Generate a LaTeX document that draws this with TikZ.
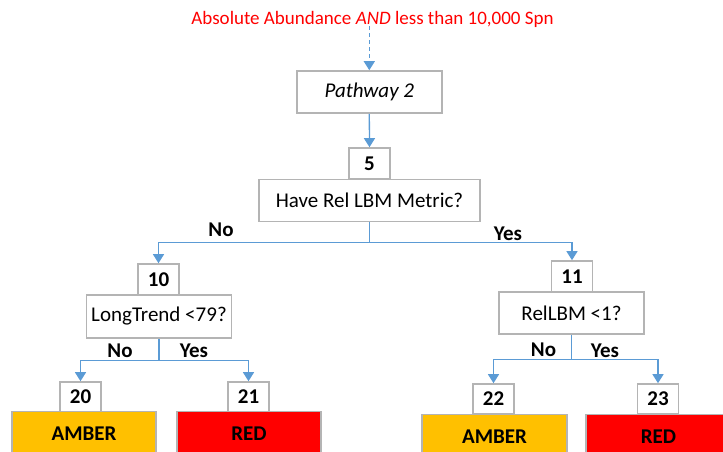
\documentclass[tikz,border=0pt]{standalone}
\usepackage{fontspec}
\setmainfont{Carlito}
\usetikzlibrary{arrows.meta}
\definecolor{linkblue}{HTML}{5B9BD5}
\definecolor{framegray}{HTML}{B4B4B4}
\definecolor{amberfill}{HTML}{FFC000}
\definecolor{redfill}{HTML}{FF0000}
\definecolor{titlered}{HTML}{FF0000}

\begin{document}
\begin{tikzpicture}[x=1pt,y=-1pt,
  txt/.style={font=\fontsize{21}{25}\selectfont},
  box/.style={txt, draw=framegray, line width=1.6pt, fill=white, inner sep=0pt,
    minimum height=42pt},
  wide/.style={box, minimum width=145pt},
  numbox/.style={box, font=\fontsize{21}{25}\selectfont\bfseries,
    minimum width=41pt, minimum height=31pt},
  verdict/.style={wide, font=\fontsize{21}{25}\selectfont\bfseries, minimum height=45pt},
  link/.style={draw=linkblue, line width=1.3pt},
  arr/.style={link, -{Triangle[width=11pt,length=9pt]}},
  lbl/.style={font=\fontsize{21}{25}\selectfont\bfseries, inner sep=0pt, anchor=base}
]
\useasboundingbox (0,0) rectangle (723,452);
\clip (0,0) rectangle (723,452);

% heading
\node[font=\fontsize{19}{22}\selectfont, text=titlered, inner sep=0pt, anchor=base]
  (title) at (372.5,25) {Absolute Abundance \textit{AND} less than 10,000 Spn};

% top of the tree
\node[wide, font=\fontsize{21}{25}\selectfont\itshape] (path) at (369.3,92) {Pathway 2};
\node[numbox] (n5) at (369.5,163.5) {5};
\node[box, minimum width=221pt] (q5) at (369.5,200.5) {Have Rel LBM Metric?};

% left branch
\node[numbox] (n10) at (158.5,279.5) {10};
\node[wide, minimum height=43pt] (q10) at (159,316.5) {LongTrend <79?};
\node[numbox, minimum height=30pt] (n20) at (80.5,397) {20};
\node[verdict, fill=amberfill, minimum width=144pt] (v20) at (84,434) {AMBER};
\node[numbox, minimum height=30pt] (n21) at (248.5,397) {21};
\node[verdict, fill=redfill, minimum width=144pt] (v21) at (249,434) {RED};

% right branch
\node[numbox] (n11) at (572,276.5) {11};
\node[wide] (q11) at (571.5,313) {RelLBM <1?};
\node[numbox, minimum height=30pt] (n22) at (493.5,399) {22};
\node[verdict, fill=amberfill] (v22) at (494.5,437) {AMBER};
\node[numbox, minimum height=30pt] (n23) at (658,399) {23};
\node[verdict, fill=redfill] (v23) at (658.5,437) {RED};

% connectors
\draw[arr, dashed, dash pattern=on 4pt off 3pt] ([yshift=2pt]title.south -| path.north) -- (path.north);
\draw[arr] (path.south) -- (n5.north);

\draw[link] (q5.south) -- ++(0,20) coordinate (j5);
\draw[arr] (j5) -| (n10.north);
\draw[arr] (j5) -| (n11.north);

\draw[link] (q10.south) -- ++(0,22) coordinate (j10);
\draw[arr] (j10) -| (n20.north);
\draw[arr] (j10) -| (n21.north);

\draw[link] (q11.south) -- ++(0,25) coordinate (j11);
\draw[arr] (j11) -| (n22.north);
\draw[arr] (j11) -| (n23.north);

% branch labels
\node[lbl] (no5) at (221,236.5) {No};
\node[lbl] (yes5) at (508,240.5) {Yes};
\node[lbl] (no10) at (120,357.5) {No};
\node[lbl] (yes10) at (194,357.5) {Yes};
\node[lbl] (no11) at (543.5,356.5) {No};
\node[lbl] (yes11) at (605,357) {Yes};
\end{tikzpicture}
\end{document}
